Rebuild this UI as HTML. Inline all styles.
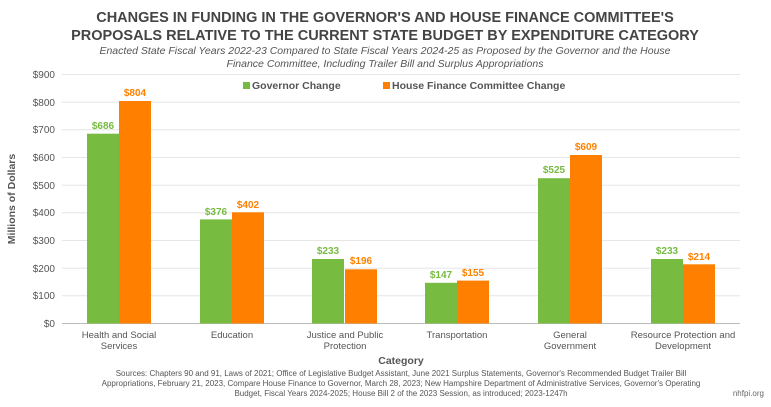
<!DOCTYPE html>
<html><head><meta charset="utf-8"><style>
body{margin:0;background:#fff;}
svg text{font-family:"Liberation Sans",sans-serif;}
</style></head><body>
<svg width="771" height="402" xmlns="http://www.w3.org/2000/svg">
<rect width="771" height="402" fill="#fff"/>
<text x="385" y="22" text-anchor="middle" font-size="14.5" font-weight="bold" fill="#444">CHANGES IN FUNDING IN THE GOVERNOR'S AND HOUSE FINANCE COMMITTEE'S</text>
<text x="385" y="40" text-anchor="middle" font-size="14.5" font-weight="bold" fill="#444">PROPOSALS RELATIVE TO THE CURRENT STATE BUDGET BY EXPENDITURE CATEGORY</text>
<text x="385" y="54" text-anchor="middle" font-size="10.5" font-style="italic" fill="#555">Enacted State Fiscal Years 2022-23 Compared to State Fiscal Years 2024-25 as Proposed by the Governor and the House</text>
<text x="385" y="67" text-anchor="middle" font-size="10.5" font-style="italic" fill="#555">Finance Committee, Including Trailer Bill and Surplus Appropriations</text>
<g stroke="#e6e6e6" stroke-width="1">
<line x1="62" x2="740" y1="74.5" y2="74.5"/><line x1="62" x2="740" y1="102.2" y2="102.2"/><line x1="62" x2="740" y1="129.8" y2="129.8"/><line x1="62" x2="740" y1="157.5" y2="157.5"/><line x1="62" x2="740" y1="185.2" y2="185.2"/><line x1="62" x2="740" y1="212.8" y2="212.8"/><line x1="62" x2="740" y1="240.5" y2="240.5"/><line x1="62" x2="740" y1="268.2" y2="268.2"/><line x1="62" x2="740" y1="295.8" y2="295.8"/>
</g>
<line x1="62" x2="740" y1="323.5" y2="323.5" stroke="#bbb"/>
<g font-size="10" fill="#555" text-anchor="end">
<text x="55" y="78">$900</text><text x="55" y="106">$800</text><text x="55" y="133">$700</text><text x="55" y="161">$600</text><text x="55" y="189">$500</text><text x="55" y="216">$400</text><text x="55" y="244">$300</text><text x="55" y="272">$200</text><text x="55" y="299">$100</text><text x="55" y="327">$0</text>
</g>
<text transform="translate(15,199) rotate(-90)" text-anchor="middle" font-size="10.5" font-weight="bold" fill="#555">Millions of Dollars</text>
<rect x="243" y="82" width="7" height="7" fill="#77bb41"/><text x="252" y="89" font-size="10.5" font-weight="bold" fill="#555">Governor Change</text>
<rect x="383" y="82" width="7" height="7" fill="#ff8000"/><text x="392" y="89" font-size="10.5" font-weight="bold" fill="#555">House Finance Committee Change</text>
<g fill="#77bb41">
<rect x="87" y="133.7" width="32" height="189.8"/><rect x="200" y="219.4" width="32" height="104.1"/><rect x="312" y="259" width="32" height="64.5"/><rect x="425" y="282.8" width="32" height="40.7"/><rect x="538" y="178.2" width="32" height="145.3"/><rect x="651" y="259" width="32" height="64.5"/>
</g>
<g fill="#ff8000">
<rect x="119" y="101" width="32" height="222.5"/><rect x="232" y="212.3" width="32" height="111.2"/><rect x="345" y="269.3" width="32" height="54.2"/><rect x="457" y="280.6" width="32" height="42.9"/><rect x="570" y="155" width="32" height="168.5"/><rect x="683" y="264.3" width="32" height="59.2"/>
</g>
<g font-size="10" font-weight="bold" text-anchor="middle" fill="#77bb41">
<text x="103" y="129">$686</text><text x="216" y="215">$376</text><text x="328" y="254">$233</text><text x="441" y="278">$147</text><text x="554" y="173">$525</text><text x="667" y="254">$233</text>
</g>
<g font-size="10" font-weight="bold" text-anchor="middle" fill="#ff8000">
<text x="135" y="96">$804</text><text x="248" y="208">$402</text><text x="361" y="264">$196</text><text x="473" y="276">$155</text><text x="586" y="150">$609</text><text x="699" y="260">$214</text>
</g>
<g font-size="9.5" fill="#555" text-anchor="middle">
<text x="119" y="338">Health and Social</text><text x="119" y="349">Services</text>
<text x="232" y="338">Education</text>
<text x="345" y="338">Justice and Public</text><text x="345" y="349">Protection</text>
<text x="457" y="338">Transportation</text>
<text x="570" y="338">General</text><text x="570" y="349">Government</text>
<text x="683" y="338">Resource Protection and</text><text x="683" y="349">Development</text>
</g>
<text x="401" y="364" text-anchor="middle" font-size="10.5" font-weight="bold" fill="#555">Category</text>
<g font-size="8" fill="#555" text-anchor="middle">
<text x="401" y="376">Sources: Chapters 90 and 91, Laws of 2021; Office of Legislative Budget Assistant, June 2021 Surplus Statements, Governor's Recommended Budget Trailer Bill</text>
<text x="401" y="386">Appropriations, February 21, 2023, Compare House Finance to Governor, March 28, 2023; New Hampshire Department of Administrative Services, Governor's Operating</text>
<text x="401" y="396">Budget, Fiscal Years 2024-2025; House Bill 2 of the 2023 Session, as introduced; 2023-1247h</text>
</g>
<text x="764" y="396" text-anchor="end" font-size="8" fill="#666">nhfpi.org</text>
</svg>
</body></html>
